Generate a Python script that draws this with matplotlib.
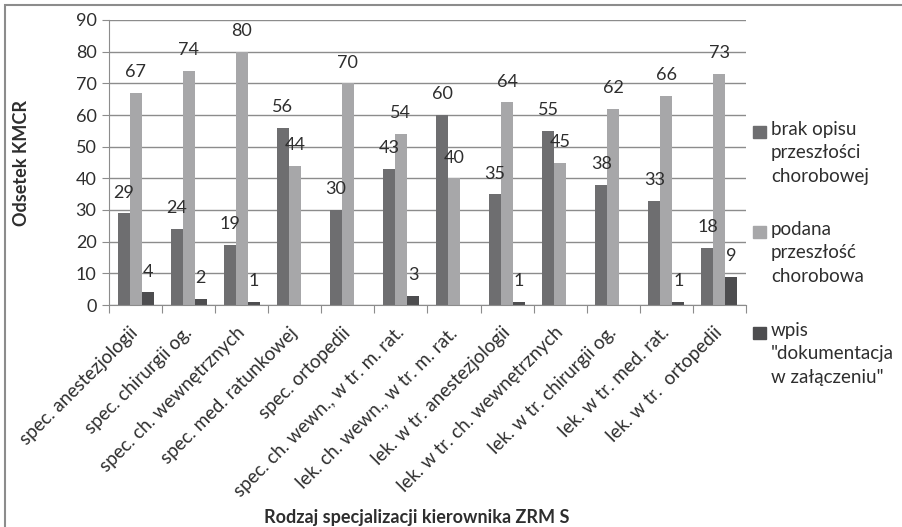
import numpy as np
import matplotlib.pyplot as plt
from matplotlib.patches import Rectangle

plt.rcParams['font.family'] = ['Lato', 'DejaVu Sans']

categories = ['spec. anestezjologii', 'spec. chirurgii og.', 'spec. ch. wewnętrznych',
              'spec. med. ratunkowej', 'spec. ortopedii', 'spec. ch. wewn., w tr. m. rat.',
              'lek. ch. wewn., w tr. m. rat.', 'lek. w tr. anestezjologii',
              'lek. w tr. ch. wewnętrznych', 'lek. w tr. chirurgii og.',
              'lek. w tr. med. rat.', 'lek. w tr.  ortopedii']
brak = [29, 24, 19, 56, 30, 43, 60, 35, 55, 38, 33, 18]
podana = [67, 74, 80, 44, 70, 54, 40, 64, 45, 62, 66, 73]
wpis = [4, 2, 1, 0, 0, 3, 0, 1, 0, 0, 1, 9]
series_names = ['brak opisu\nprzeszłości\nchorobowej', 'podana\nprzeszłość\nchorobowa',
                'wpis\n"dokumentacja\nw załączeniu"']
colors = ['#6e6e70', '#a7a7a9', '#4d4d4f']

W, H = 903, 527
fig = plt.figure(figsize=(W / 100, H / 100), dpi=100)
ax = fig.add_axes([109 / W, 1 - 305 / H, 637 / W, 285 / H])

x = np.arange(len(categories))
w = 0.226
txt = '#2e2e2e'
grey = '#8c8c8c'
for k, (vals, c) in enumerate(zip([brak, podana, wpis], colors)):
    pos = x + (k - 1) * w
    ax.bar(pos, vals, w, color=c, zorder=2)
    for p, v in zip(pos, vals):
        if v > 0:
            ax.text(p, v + 6.5, str(v), ha='center', va='center', fontsize=13, color=txt)

ax.set_ylim(0, 90)
ax.set_xlim(-0.5, len(categories) - 0.5)
ax.set_yticks(range(0, 91, 10))
ax.yaxis.grid(True, color=grey, lw=1)
ax.set_axisbelow(True)
ax.tick_params(axis='y', labelsize=13, colors=grey, labelcolor=txt, length=5, pad=4)

# group boundaries get the tick marks, group centres get the labels
ax.set_xticks(np.arange(-0.5, len(categories)))
ax.set_xticklabels([])
ax.set_xticks(x, minor=True)
ax.set_xticklabels(categories, minor=True, rotation=45, ha='right', va='center',
                   rotation_mode='anchor', fontsize=13.5, color=txt)
ax.tick_params(axis='x', which='major', length=6, colors=grey)
ax.tick_params(axis='x', which='minor', length=0, pad=18)

for s in ['top', 'right']:
    ax.spines[s].set_visible(False)
for s in ['left', 'bottom']:
    ax.spines[s].set_color(grey)

ax.set_ylabel('Odsetek KMCR', fontsize=13, fontweight='bold', color=txt)
ax.yaxis.set_label_coords(-0.124, 0.5)
fig.text(417 / W, 1 - 518 / H, 'Rodzaj specjalizacji kierownika ZRM S', ha='center',
         va='center', fontsize=13, fontweight='bold', color=txt)

# legend drawn by hand so each square sits on the first line of its label
for name, c, yc in zip(series_names, colors, [132, 232, 333]):
    fig.add_artist(Rectangle((753 / W, 1 - (yc + 6) / H), 13 / W, 12 / H,
                             transform=fig.transFigure, color=c))
    fig.text(771 / W, 1 - (yc - 11) / H, name, ha='left', va='top', fontsize=13.5,
             color=txt, linespacing=1.45)

fig.add_artist(Rectangle((0.005, -0.05), 1.2, 1.04, transform=fig.transFigure,
                         fill=False, edgecolor=grey, lw=1.5))

fig.savefig('out.png', dpi=100)
